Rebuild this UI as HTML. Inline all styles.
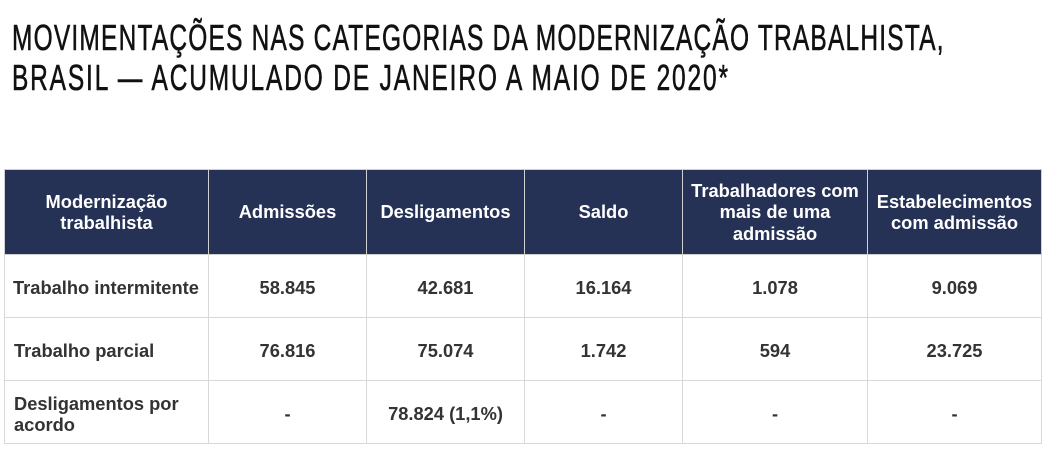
<!DOCTYPE html>
<html><head><meta charset="utf-8"><style>
body{margin:0;width:1060px;height:472px;background:#fff;position:relative;overflow:hidden;font-family:"Liberation Sans",sans-serif}
svg.t{position:absolute;left:0;top:0}
table{position:absolute;left:4px;top:169px;border-collapse:collapse;table-layout:fixed}
td,th{border:1.5px solid #d9d9d9;text-align:center;font-weight:bold;font-size:18.3px;line-height:21.5px;padding:0 2px}
th{background:#253256;color:#fff;height:84px;border-color:#d0d0d0}
td{color:#333;height:58px;padding-top:4px;padding-bottom:0}
td.l{text-align:left;padding-left:9px}
</style></head><body>
<svg class="t" width="1060" height="110">
<g transform="scale(0.68,1)" font-family="Liberation Sans,sans-serif" font-size="36" fill="#111" stroke="#111" stroke-width="0.6">
<text x="17.6" y="50" textLength="1370" lengthAdjust="spacing">MOVIMENTAÇÕES NAS CATEGORIAS DA MODERNIZAÇÃO TRABALHISTA,</text>
<text x="17.6" y="90" textLength="1053" lengthAdjust="spacing">BRASIL — ACUMULADO DE JANEIRO A MAIO DE 2020*</text>
</g>
</svg>
<table>
<colgroup><col style="width:204px"><col style="width:158px"><col style="width:158px"><col style="width:158px"><col style="width:185px"><col style="width:174px"></colgroup>
<tr>
<th>Modernização<br>trabalhista</th>
<th>Admissões</th>
<th>Desligamentos</th>
<th>Saldo</th>
<th>Trabalhadores com<br>mais de uma<br>admissão</th>
<th>Estabelecimentos<br>com admissão</th>
</tr>
<tr>
<td class="l" style="white-space:nowrap;padding-left:8px">Trabalho intermitente</td><td>58.845</td><td>42.681</td><td>16.164</td><td>1.078</td><td>9.069</td>
</tr>
<tr>
<td class="l">Trabalho parcial</td><td>76.816</td><td>75.074</td><td>1.742</td><td>594</td><td>23.725</td>
</tr>
<tr>
<td class="l">Desligamentos por<br>acordo</td><td>-</td><td>78.824 (1,1%)</td><td>-</td><td>-</td><td>-</td>
</tr>
</table>
</body></html>
